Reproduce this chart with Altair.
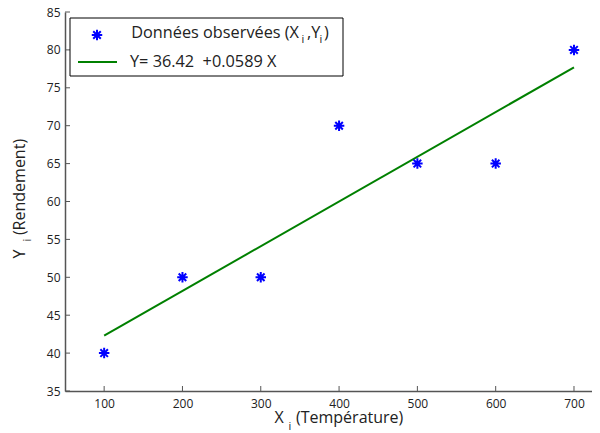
import altair as alt
import pandas as pd

# ---- data ----
temperature = [100, 200, 300, 400, 500, 600, 700]
rendement = [40, 50, 50, 70, 65, 65, 80]
fit_x = [100, 700]
fit_y = [42.3, 77.7]
x_ticks = [100, 200, 300, 400, 500, 600, 700]
y_ticks = [35, 40, 45, 50, 55, 60, 65, 70, 75, 80, 85]
legend_obs = "Données observées (X"
legend_fit = "Y= 36.42\u00a0 +0.0589 X"
x_title = "(Température)"
y_title = "(Rendement)"

FONT = "Open Sans"
BLUE = "#0000ff"
GREEN = "#008000"
AXIS = "#555555"
TXT = "#222222"
ASTERISK = "M-1,0L1,0M0,-1L0,1M-0.72,-0.72L0.72,0.72M-0.72,0.72L0.72,-0.72"

W, H = 527, 379
xs = alt.Scale(domain=[50, 723], nice=False, zero=False)
ys = alt.Scale(domain=[35, 85], nice=False, zero=False)

pts = pd.DataFrame({"x": temperature, "y": rendement})
fit = pd.DataFrame({"x": fit_x, "y": fit_y})
xt = pd.DataFrame({"v": x_ticks})
yt = pd.DataFrame({"v": y_ticks})
one = pd.DataFrame({"a": [0]})

x_axis = alt.Axis(values=x_ticks, tickSize=0, labelPadding=7, domainColor=AXIS,
                  domainWidth=1.5, labelColor=TXT, labelFontSize=12, labelFont=FONT,
                  labelOverlap=False, grid=False, title=None)
y_axis = alt.Axis(values=y_ticks, tickSize=0, labelPadding=5, domainColor=AXIS,
                  domainWidth=1.5, labelColor=TXT, labelFontSize=12, labelFont=FONT,
                  labelOverlap=False, labelFlush=False, grid=False, title=None)

points = alt.Chart(pts).mark_point(
    shape=ASTERISK, size=110, color=BLUE, strokeWidth=2, filled=False, opacity=1
).encode(x=alt.X("x:Q", scale=xs, axis=x_axis), y=alt.Y("y:Q", scale=ys, axis=y_axis))

line = alt.Chart(fit).mark_line(color=GREEN, strokeWidth=2).encode(
    x=alt.X("x:Q", scale=xs, axis=x_axis), y=alt.Y("y:Q", scale=ys, axis=y_axis))

xtick = alt.Chart(xt).mark_rule(color=AXIS, strokeWidth=1).encode(
    x=alt.X("v:Q", scale=xs, axis=x_axis), y=alt.value(H), y2=alt.value(H - 5))
ytick = alt.Chart(yt).mark_rule(color=AXIS, strokeWidth=1).encode(
    y=alt.Y("v:Q", scale=ys, axis=y_axis), x=alt.value(0), x2=alt.value(5))


def txt(s, x, y, size=16, align="left", angle=0):
    kw = dict(text=s, font=FONT, fontSize=size, color=TXT, align=align, baseline="middle")
    if angle:
        kw["angle"] = angle
    return alt.Chart(one).mark_text(**kw).encode(x=alt.value(x), y=alt.value(y))


titles = [
    txt("X", 214, 406, 16, "center"),
    txt("i", 225, 415, 11, "center"),
    txt(x_title, 231, 406, 16, "left"),
    txt("Y", -45, 242, 16, "center", 270),
    txt("i", -37, 228, 11, "center", 270),
    txt(y_title, -45, 175, 16, "center", 270),
]

legend_box = alt.Chart(one).mark_rect(fill="white", stroke="black", strokeWidth=1).encode(
    x=alt.value(5), x2=alt.value(278), y=alt.value(6), y2=alt.value(64))
legend_pt = alt.Chart(one).mark_point(
    shape=ASTERISK, size=110, color=BLUE, strokeWidth=2, filled=False, opacity=1
).encode(x=alt.value(32), y=alt.value(23))
legend_ln = alt.Chart(one).mark_rule(color=GREEN, strokeWidth=2).encode(
    x=alt.value(13), x2=alt.value(52), y=alt.value(50))
LF = 16.3
legend_txt = [
    txt(legend_obs, 234, 21, LF, "right"),
    txt("i", 238, 28, 11, "center"),
    txt(",Y", 242, 21, LF, "left"),
    txt("i", 256, 28, 11, "center"),
    txt(")", 259, 21, LF, "left"),
    txt(legend_fit, 65, 50, LF, "left"),
]

chart = alt.layer(
    line, points, xtick, ytick, *titles, legend_box, legend_pt, legend_ln, *legend_txt
).properties(
    width=W, height=H,
    autosize=alt.AutoSizeParams(type="none"),
    padding={"left": 57, "top": 4, "right": 0, "bottom": 42},
).configure_view(stroke=None).configure_axis(labelOverlap=False)

chart.save("out.html", embed_options={"renderer": "svg", "actions": False})
